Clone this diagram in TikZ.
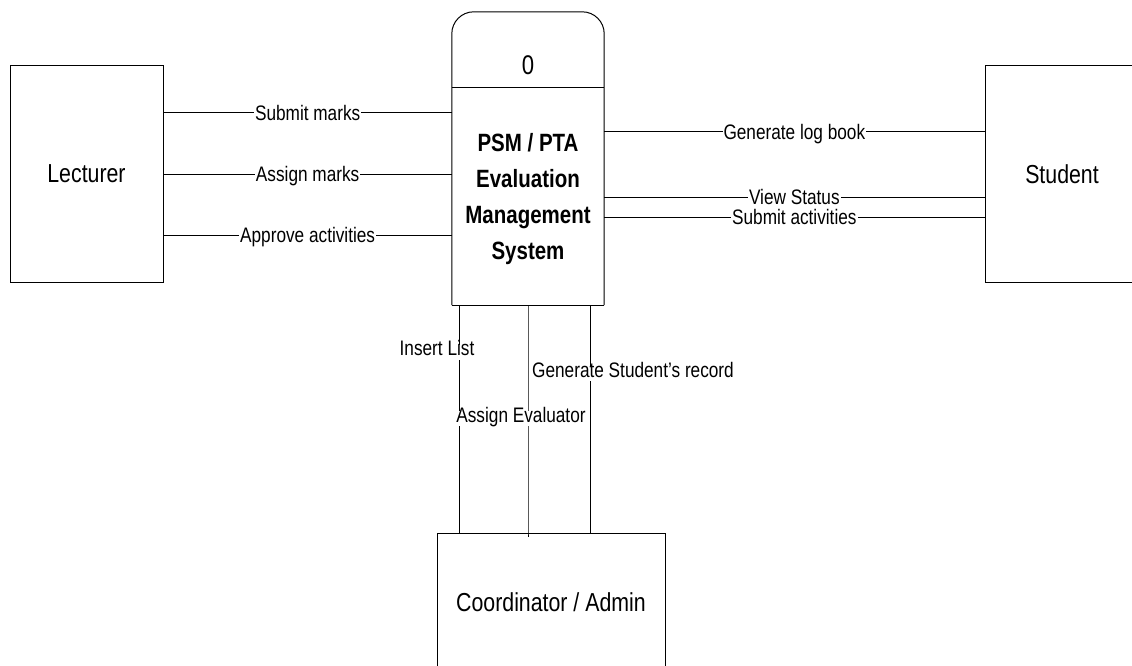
\documentclass[tikz,border=0pt]{standalone}
\usepackage{fontspec}
\setmainfont[FakeStretch=0.82]{Liberation Sans}
\begin{document}
\begin{tikzpicture}[x=1pt,y=-1pt,
  entity/.style={draw,line width=1pt,inner sep=0pt,font=\fontsize{26}{31}\selectfont},
  flow/.style={line width=1pt},
  lbl/.style={fill=white,inner sep=1pt,text height=1.0em,text depth=0.28em,yshift=-4pt,
              font=\fontsize{21}{25}\selectfont}]
  % page frame
  \clip (0,0) rectangle (1132,666);
  \fill[white] (0,0) rectangle (1132,666);

  % external entities
  \node[entity,minimum width=153pt,minimum height=216pt] (lec) at (86.5,174) {Lecturer};
  \node[entity,minimum width=154pt,minimum height=216pt] (stu) at (1062,174) {Student};
  \node[entity,minimum width=228pt,minimum height=138pt] (crd) at (551,602) {Coordinator / Admin};

  % process 0
  \node[minimum width=152pt,minimum height=293pt,inner sep=0pt] (proc) at (528,158.5) {};
  \draw[line width=1pt,rounded corners=22pt]
    (proc.south west) -- (proc.north west) -- (proc.north east) -- (proc.south east);
  \draw[line width=1pt] (proc.south west) -- (proc.south east);
  \draw[line width=1pt] ([yshift=-76pt]proc.north west) -- ([yshift=-76pt]proc.north east);
  \node[font=\fontsize{27}{32}\selectfont] (pid) at (528,65) {0};
  \node[align=center,font=\bfseries\fontsize{25}{36}\selectfont] (ptitle) at (528,199)
    {PSM / PTA\\Evaluation\\Management\\System};

  % flows between Lecturer and the process
  \coordinate (l1) at ([yshift=61pt]lec.east);
  \coordinate (l2) at (lec.east);
  \coordinate (l3) at ([yshift=-61pt]lec.east);
  \draw[flow] (l1) -- node[lbl]{Submit marks} (l1 -| proc.west);
  \draw[flow] (l2) -- node[lbl]{Assign marks} (l2 -| proc.west);
  \draw[flow] (l3) -- node[lbl]{Approve activities} (l3 -| proc.west);

  % flows between the process and Student
  \coordinate (s1) at ([yshift=42pt]stu.west);
  \coordinate (s2) at ([yshift=-23pt]stu.west);
  \coordinate (s3) at ([yshift=-43pt]stu.west);
  \draw[flow] (s1 -| proc.east) -- node[lbl]{Generate log book} (s1);
  \draw[flow] (s3 -| proc.east) -- node[lbl]{Submit activities} (s3);
  \draw[flow] (s2 -| proc.east) -- node[lbl]{View Status} (s2);

  % flows between the process and Coordinator / Admin
  \coordinate (b1) at ([xshift=-69pt]proc.south);
  \coordinate (b2) at (proc.south);
  \coordinate (b3) at ([xshift=62pt]proc.south);
  \draw[flow] (b1) -- node[lbl,pos=0.189,xshift=-22pt]{Insert List} (b1 |- crd.north);
  \draw[flow] (b3) -- node[lbl,pos=0.285,xshift=43pt]{Generate Student’s record} (b3 |- crd.north);
  \draw[flow] (b2) -- (b2 |- crd.north) -- ++(0,4);
  \path (b2) -- node[lbl,pos=0.482,xshift=-7pt]{Assign Evaluator} (b2 |- crd.north);
\end{tikzpicture}
\end{document}
